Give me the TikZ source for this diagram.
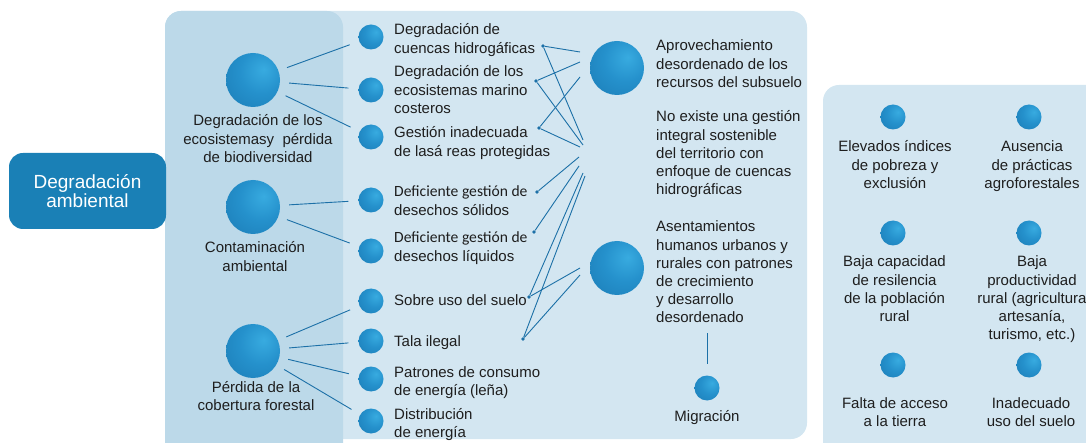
\documentclass[tikz,border=0pt]{standalone}
\usepackage{fontspec}
\setmainfont{Liberation Sans}
\newfontfamily\carl{Carlito}
\definecolor{panelL}{HTML}{D3E6F1}
\definecolor{panelD}{HTML}{BCD9E9}
\definecolor{boxB}{HTML}{1A80B6}
\definecolor{cA}{HTML}{38ABE0}
\definecolor{cB}{HTML}{2591CC}
\definecolor{cC}{HTML}{1A79B3}
\definecolor{lineB}{HTML}{1C70A7}
\definecolor{txt}{HTML}{1E1E1E}
\pgfdeclareradialshading{bubble}{\pgfpoint{10bp}{10bp}}{color(0bp)=(cA); color(20bp)=(cB); color(48bp)=(cC); color(90bp)=(cC)}
\newcommand\tl[1]{\begin{tabular}[t]{@{}l@{}}#1\end{tabular}}
\newcommand\tc[1]{\begin{tabular}[t]{@{}c@{}}#1\end{tabular}}
\begin{document}
\begin{tikzpicture}[x=1pt,y=-1pt,
  bigc/.style={circle,minimum size=54pt,inner sep=0pt,shading=bubble},
  smallc/.style={circle,minimum size=25pt,inner sep=0pt,shading=bubble},
  dot/.style={circle,fill=lineB,minimum size=3.6pt,inner sep=0pt},
  conn/.style={draw=lineB,line width=0.9pt},
  lbl/.style={inner sep=0pt,text=txt,font=\fontsize{15}{18.2}\selectfont},
  lblw/.style={lbl,anchor=base west},
  lblc/.style={lbl,anchor=base},
  mainbox/.style={rectangle,rounded corners=14pt,fill=boxB,text=white,minimum width=157pt,minimum height=76pt,align=center,inner sep=0pt,font=\fontsize{19}{19.5}\selectfont}
]
\useasboundingbox (0,0) rectangle (1086,443);
% panels
\fill[panelL, rounded corners=16pt] (165,11) rectangle (807,439);
\fill[panelD, rounded corners=16pt] (165,11) rectangle (343,470);
\fill[panelL, rounded corners=16pt] (823,85) rectangle (1120,470);
% main box
\node[mainbox] (main) at (87.5,191) {Degradación\\ambiental\hspace{8pt}};
% left big circles
\node[bigc] (L1) at (253,80) {};
\node[bigc] (L2) at (253,207) {};
\node[bigc] (L3) at (253,351) {};
\node[lblc] (L1t) at (258,126) {\tc{Degradación de los\\ecosistemasy\ \ pérdida\\de biodiversidad}};
\node[lblc] (L2t) at (255,253) {\tc{Contaminación\\ambiental}};
\node[lblc] (L3t) at (256,392) {\tc{Pérdida de la\\cobertura forestal}};
% small circles
\node[smallc] (S1) at (371,37) {};
\node[smallc] (S2) at (371,90) {};
\node[smallc] (S3) at (371,137) {};
\node[smallc] (S4) at (371,200) {};
\node[smallc] (S5) at (371,251) {};
\node[smallc] (S6) at (371,301) {};
\node[smallc] (S7) at (371,341) {};
\node[smallc] (S8) at (371,379) {};
\node[smallc] (S9) at (371,421) {};
\foreach \a/\b in {L1/S1,L1/S2,L1/S3,L2/S4,L2/S5,L3/S6,L3/S7,L3/S8,L3/S9}
  \draw[conn, shorten <=9pt, shorten >=10pt] (\a) -- (\b);
\node[lblw] (T1) at (394,35) {\tl{Degradación de\\cuencas hidrogáficas}};
\node[lblw] (T2) at (394,77) {\tl{Degradación de los\\ecosistemas marino\\costeros}};
\node[lblw] (T3) at (394,138) {\tl{Gestión inadecuada\\de lasá reas protegidas}};
\node[lblw] (T4) at (394,197) {\tl{{\carl\fontsize{15.6}{18.2}\selectfont Deficiente gestión de}\\desechos sólidos}};
\node[lblw] (T5) at (394,243) {\tl{{\carl\fontsize{15.6}{18.2}\selectfont Deficiente gestión de}\\desechos líquidos}};
\node[lblw] (T6) at (394,306) {Sobre uso del suelo};
\node[lblw] (T7) at (394,346) {Tala ilegal};
\node[lblw] (T8) at (394,377) {\tl{Patrones de consumo\\de energía (leña)}};
\node[lblw] (T9) at (394,419) {\tl{Distribución\\de energía}};
% middle column
\node[bigc] (M1) at (617,68) {};
\node[bigc] (M2) at (617,268) {};
\node[smallc] (Mig) at (707,388) {};
\node[lblw] (M1t) at (656,51) {\tl{Aprovechamiento\\desordenado de los\\recursos del subsuelo}};
\node[lblw] (Nt) at (656,122) {\tl{No existe una gestión\\integral sostenible\\del territorio con\\enfoque de cuencas\\hidrográficas}};
\node[lblw] (M2t) at (656,232) {\tl{Asentamientos\\humanos urbanos y\\rurales con patrones\\de crecimiento\\y desarrollo\\desordenado}};
\node[lblc] (Migt) at (707,421) {Migración};
\coordinate (mtop) at (707,333);
\draw[conn, shorten >=11pt] (mtop) -- (Mig);
% dots and crossing connectors
\node[dot] (D1) at (543,46) {};
\node[dot] (D2) at (536,81) {};
\node[dot] (D3) at (539,128) {};
\node[dot] (D4) at (537,192) {};
\node[dot] (D5) at (534,232) {};
\node[dot] (D6) at (529,297) {};
\node[dot] (D7) at (523,339) {};
\coordinate (A1) at (580,52);
\coordinate (A2) at (580,62);
\coordinate (A3) at (580,77);
\coordinate (N1) at (583,140);
\coordinate (N2) at (583,145);
\coordinate (N3) at (580,147);
\coordinate (N4) at (579,157);
\coordinate (N5) at (579,166);
\coordinate (N6) at (583,173);
\coordinate (N7) at (585,176);
\coordinate (B1) at (580,268);
\coordinate (B2) at (580,275);
\foreach \a/\b in {D1/A1,D1/N1,D2/A2,D2/N2,D3/A3,D3/N3,D4/N4,D5/N5,D6/N6,D7/N7,D6/B1,D7/B2}
  \draw[conn] (\a) -- (\b);
% right panel
\node[smallc] (R1) at (893,117) {};
\node[smallc] (R2) at (1029,117) {};
\node[smallc] (R3) at (893,233) {};
\node[smallc] (R4) at (1029,233) {};
\node[smallc] (R5) at (893,365) {};
\node[smallc] (R6) at (1029,365) {};
\node[lblc] (R1t) at (895,152) {\tc{Elevados índices\\de pobreza y\\exclusión}};
\node[lblc] (R2t) at (1032,152) {\tc{Ausencia\\de prácticas\\agroforestales}};
\node[lblc] (R3t) at (894.5,267) {\tc{Baja capacidad\\de resilencia\\de la población\\rural}};
\node[lblc] (R4t) at (1032,267) {\tc{Baja\\productividad\\rural (agricultura\\artesanía,\\turismo, etc.)}};
\node[lblc] (R5t) at (895,408) {\tc{Falta de acceso\\a la tierra}};
\node[lblc] (R6t) at (1031,408) {\tc{Inadecuado\\uso del suelo}};
\end{tikzpicture}
\end{document}
